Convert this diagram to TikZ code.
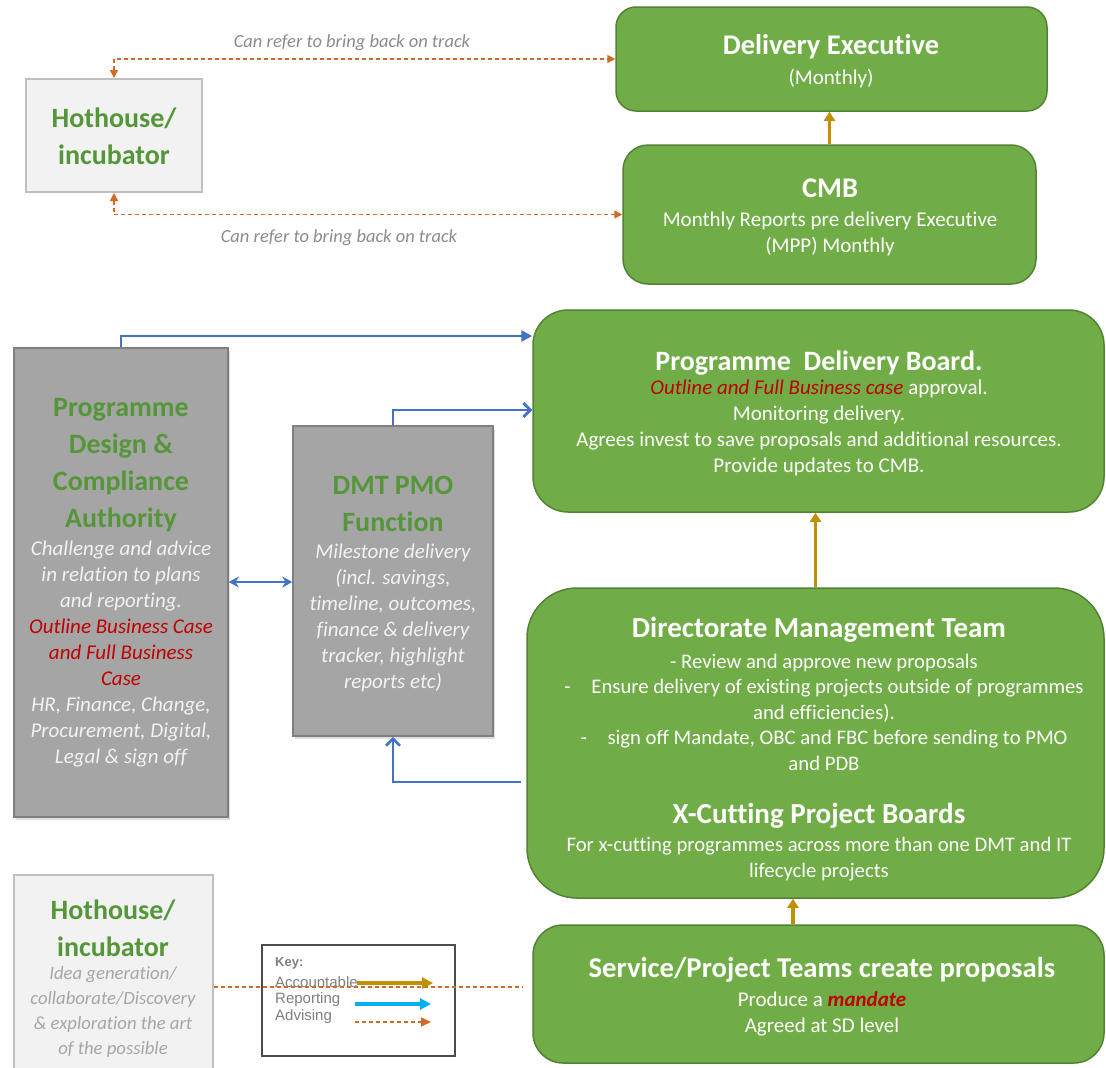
\documentclass[tikz,border=0pt]{standalone}
\usepackage{fontspec}
\setmainfont{Carlito}[Ligatures=NoCommon]
\newfontfamily\keyfont{Liberation Sans}
\usetikzlibrary{arrows.meta,calc,shadows}
\definecolor{gfill}{HTML}{70AD47}
\definecolor{gborder}{HTML}{548235}
\definecolor{greyfill}{HTML}{A5A5A5}
\definecolor{greyborder}{HTML}{7F7F7F}
\definecolor{lfill}{HTML}{F2F2F2}
\definecolor{lborder}{HTML}{BFBFBF}
\definecolor{tgreen}{HTML}{56963A}
\definecolor{dred}{HTML}{C00000}
\definecolor{advc}{HTML}{D06A26}
\definecolor{repc}{HTML}{4472C4}
\definecolor{accc}{HTML}{BF9000}
\definecolor{keycyan}{HTML}{00B0F0}
\definecolor{labgrey}{HTML}{8C8C8C}
\definecolor{lightgreytext}{HTML}{A6A6A6}
\tikzset{
  gbox/.style={draw=gborder, fill=gfill, line width=1.5pt, inner sep=0pt},
  greybox/.style={draw=greyborder, fill=greyfill, line width=1.5pt, inner sep=0pt,
    drop shadow={opacity=0.25, shadow xshift=2pt, shadow yshift=-3pt}},
  lbox/.style={draw=lborder, fill=lfill, line width=2pt, inner sep=0pt},
  keybox/.style={draw=black!70, fill=white, line width=1.2pt, inner sep=0pt},
  wtitle/.style={text=white, font=\bfseries\fontsize{28.5}{32}\selectfont, inner sep=0pt},
  wbig/.style={text=white, font=\bfseries\fontsize{29}{32}\selectfont, inner sep=0pt},
  wbody/.style={text=white, font=\fontsize{21}{26}\selectfont, align=center, inner sep=0pt},
  gtitle/.style={text=tgreen, font=\bfseries\fontsize{28}{37}\selectfont, align=center, inner sep=0pt},
  ibody/.style={text=white!95!black, font=\itshape\fontsize{21}{26}\selectfont, align=center, inner sep=0pt},
  hbody/.style={text=lightgreytext, font=\itshape\fontsize{18.7}{25}\selectfont, align=center, inner sep=0pt},
  lab/.style={text=labgrey, font=\itshape\fontsize{18.5}{22}\selectfont, inner sep=0pt},
  keytext/.style={text=greyborder, font=\keyfont\fontsize{15}{17}\selectfont, anchor=west, inner sep=0pt},
  rep/.style={draw=repc, line width=2.8pt},
  acc/.style={draw=accc, line width=3.5pt, -{Triangle[length=9pt,width=11pt]}},
  adv/.style={draw=advc, line width=1.6pt, dash pattern=on 4pt off 3pt},
  advtip/.style={{Triangle[length=8pt,width=8pt]}-{Triangle[length=8pt,width=8pt]}}
}
\begin{document}
\begin{tikzpicture}[x=1pt,y=-1pt]
\useasboundingbox[fill=white] (0,0) rectangle (1106,1068);

% ---- boxes ----
\node[gbox, rounded corners=20pt, minimum width=431pt, minimum height=104pt] (de) at (831.5,59) {};
\node[gbox, rounded corners=25pt, minimum width=413pt, minimum height=139pt] (cmb) at (829.5,214.5) {};
\node[lbox, minimum width=176pt, minimum height=113pt] (hh1) at (114,135.5) {};
\node[gbox, rounded corners=35pt, minimum width=571pt, minimum height=202pt] (pdb) at (818.5,411) {};
\node[greybox, minimum width=214pt, minimum height=469pt] (pdca) at (121,582.5) {};
\node[greybox, minimum width=200pt, minimum height=310pt] (pmo) at (393,581) {};
\node[gbox, rounded corners=50pt, minimum width=577pt, minimum height=310pt] (dmt) at (815.5,743) {};
\node[gbox, rounded corners=30pt, minimum width=571pt, minimum height=138pt] (svc) at (818.5,994) {};
\node[lbox, minimum width=199pt, minimum height=200pt] (hh2) at (113.5,975) {};
\node[keybox, minimum width=193pt, minimum height=111pt] (key) at (358.5,1000.5) {};

% ---- texts ----
\node[wtitle] (detitle) at (831,47) {Delivery Executive};
\node[wbody] (debody) at (831,79) {(Monthly)};

\node[wtitle] (cmbtitle) at (830,188) {CMB};
\node[wbody] (cmbbody) at (830,233.5) {Monthly Reports pre delivery Executive\\(MPP) Monthly};

\node[gtitle] (hh1title) at (114,136.5) {Hothouse/\\incubator};

\node[wtitle, font=\bfseries\fontsize{28}{32}\selectfont] (pdbtitle) at (819,363) {Programme\ \ Delivery Board.};
\node[wbody] (pdbbody) at (819,428) {\textcolor{dred}{\itshape Outline and Full Business case} approval.\\Monitoring delivery.\\Agrees invest to save proposals and additional resources.\\Provide updates to CMB.};

\node[gtitle] (pdcatitle) at (121,465) {Programme\\Design \&\\Compliance\\Authority};
\node[ibody] (pdcabody) at (121,654) {Challenge and advice\\in relation to plans\\and reporting.\\\textcolor{dred}{Outline Business Case}\\\textcolor{dred}{and Full Business}\\\textcolor{dred}{Case}\\HR, Finance, Change,\\Procurement, Digital,\\Legal \& sign off};

\node[gtitle] (pmotitle) at (393,503.5) {DMT PMO\\Function};
\node[ibody] (pmobody) at (393,618) {Milestone delivery\\(incl. savings,\\timeline, outcomes,\\finance \& delivery\\tracker, highlight\\reports etc)};

\node[wbig] (dmttitle) at (819,630) {Directorate Management Team};
\node[wbody, font=\fontsize{20.7}{25.5}\selectfont] (dmtbody) at (824,712) {- Review and approve new proposals\\-\quad Ensure delivery of existing projects outside of programmes\\and efficiencies).\\-\quad sign off Mandate, OBC and FBC before sending to PMO\\and PDB};
\node[wbig] (xtitle) at (819,816) {X-Cutting Project Boards};
\node[wbody, font=\fontsize{20.7}{26}\selectfont] (xbody) at (819,859) {For x-cutting programmes across more than one DMT and IT\\lifecycle projects};

\node[wbig, font=\bfseries\fontsize{28.7}{32}\selectfont] (svctitle) at (822,970) {Service/Project Teams create proposals};
\node[wbody] (svcbody) at (822,1013.5) {Produce a \textcolor{dred}{\bfseries\itshape mandate}\\Agreed at SD level};

\node[gtitle] (hh2title) at (113,928) {Hothouse/\\incubator};
\node[hbody] (hh2body) at (113,1012.5) {Idea generation/\\collaborate/Discovery\\\& exploration the art\\of the possible};

\node[lab] (lab1) at (352,43) {Can refer to bring back on track};
\node[lab] (lab2) at (339,238) {Can refer to bring back on track};

% key
\node[keytext, font=\keyfont\bfseries\fontsize{13}{15}\selectfont] (kkey) at (275,963) {Key:};
\node[keytext] (kacc) at (275,982) {Accountable};
\node[keytext] (krep) at (275,1000) {Reporting};
\node[keytext] (kadv) at (275,1017) {Advising};
\coordinate (ka1) at (357,983);
\coordinate (ka2) at (433,983);
\coordinate (kr1) at (355,1004);
\coordinate (kr2) at (431,1004);
\coordinate (kd1) at (355,1022);
\coordinate (kd2) at (431,1022);

% ---- connectors ----
\coordinate (yA) at (0,336);
\coordinate (yB) at (0,410);
\coordinate (yC) at (0,582);
\coordinate (yD) at (0,782);
\coordinate (yE) at (0,987);
\coordinate (xS) at (793,0);

\draw[rep, -{Triangle[length=11pt,width=11pt]}] (pdca.north) |- (pdb.west |- yA);
\draw[rep, -{Straight Barb[length=7pt,width=14pt]}] (pmo.north) |- (pdb.west |- yB);
\draw[rep, {Stealth[length=10pt,width=11pt]}-{Stealth[length=10pt,width=11pt]}] (pdca.east |- yC) -- (pmo.west |- yC);
\draw[rep, -{Straight Barb[length=7pt,width=14pt]}] ([xshift=-5pt]dmt.west |- yD) -| (pmo.south);

\draw[acc] (cmb.north) -- (cmb.north |- de.south);
\draw[acc] (dmt.north) -- (dmt.north |- pdb.south);
\draw[acc] (svc.north -| xS) -- (dmt.south -| xS);

\draw[adv, advtip] (hh1.north) |- (de.west);
\draw[adv, advtip] (hh1.south) |- (cmb.west);
\draw[adv] (hh2.east |- yE) -- ([xshift=-10pt]svc.west |- yE);

\draw[acc, -{Triangle[length=11pt,width=11pt]}] (ka1) -- (ka2);
\draw[draw=keycyan, line width=3.5pt, -{Triangle[length=11pt,width=11pt]}] (kr1) -- (kr2);
\draw[adv, -{Triangle[length=10pt,width=9pt]}] (kd1) -- (kd2);
\end{tikzpicture}
\end{document}
